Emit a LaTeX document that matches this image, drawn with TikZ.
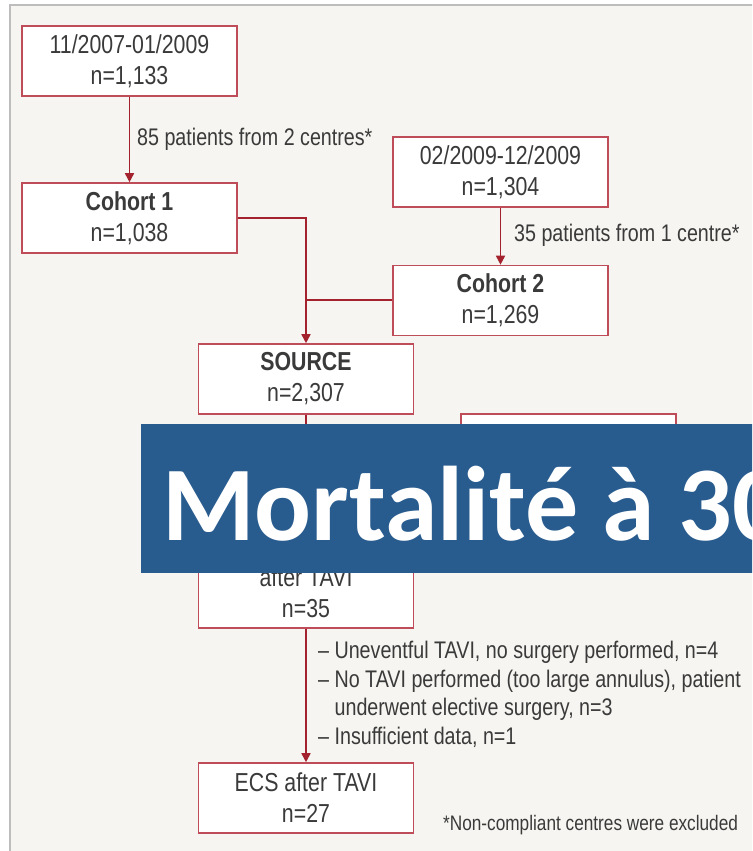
\documentclass[tikz,border=0pt]{standalone}
\usepackage{fontspec}
\usetikzlibrary{arrows.meta}
\newfontfamily\cond{Liberation Sans}[FakeStretch=0.82]
\newfontfamily\calib{Carlito}
\definecolor{bgc}{HTML}{F6F5F1}
\definecolor{framec}{HTML}{BDBDBD}
\definecolor{boxred}{HTML}{BF4D59}
\definecolor{arrred}{HTML}{A3222E}
\definecolor{txt}{HTML}{3A3A3A}
\definecolor{banner}{HTML}{285B8E}
\begin{document}
\begin{tikzpicture}[x=1pt,y=-1pt,
  box/.style={draw=boxred,line width=1.6pt,fill=white,minimum width=215pt,minimum height=70pt,
    inner sep=0pt,align=center,text=txt,font=\cond\fontsize{26}{31}\selectfont},
  conn/.style={draw=arrred,line width=1.6pt},
  arr/.style={conn,-{Triangle[length=9pt,width=9pt]}},
  lbl/.style={text=txt,font=\cond\fontsize{24}{28.5}\selectfont,inner sep=0pt}]
\useasboundingbox (0,0) rectangle (752,851);
\clip (0,0) rectangle (752,851);
\fill[white] (0,0) rectangle (752,851);
\fill[bgc] (10,5) rectangle (760,860);
\draw[framec,line width=2pt] (10,860) -- (10,5) -- (760,5);
% boxes
\node[box] (A) at (129.5,61) {11/2007-01/2009\\n=1,133};
\node[box] (C1) at (129.5,218) {\textbf{Cohort 1}\\n=1,038};
\node[box] (B) at (500.5,172) {02/2009-12/2009\\n=1,304};
\node[box] (C2) at (500.5,300.5) {\textbf{Cohort 2}\\n=1,269};
\node[box] (S) at (306,379) {\textbf{SOURCE}\\n=2,307};
\node[box] (R) at (568.5,449) {};
\node[box] (T) at (306,593) {after TAVI\\n=35};
\node[box] (E) at (306,798) {ECS after TAVI\\n=27};
% connectors
\coordinate (j1) at (306,218);
\coordinate (j2) at (306,300);
\coordinate (j3) at (306,449);
\draw[arr] (A) -- (C1);
\draw[arr] (B) -- (C2);
\draw[conn] (C1.east |- j1) -- (j1) -- (j2);
\draw[conn] (C2.west |- j2) -- (j2);
\draw[arr] (j2) -- (S);
\draw[conn] (S) -- (T);
\draw[arr] (j3) -- (R);
\draw[arr] (T) -- (E);
% labels
\node[lbl,anchor=base west] (l1) at (137,145) {85 patients from 2 centres*};
\node[lbl,anchor=base west] (l2) at (514,241) {35 patients from 1 centre*};
\node[lbl,anchor=base west,align=left] (l3) at (318,744) {–\ Uneventful TAVI, no surgery performed, n=4\\
–\ No TAVI performed (too large annulus), patient\\
\phantom{–\ }underwent elective surgery, n=3\\
–\ Insufficient data, n=1};
\node[lbl,anchor=base west,font=\cond\fontsize{21}{24}\selectfont] (fn) at (443,830) {*Non-compliant centres were excluded};
% banner
\fill[banner] (141,424) rectangle (760,573);
\node[anchor=base west,inner sep=0pt,text=white,font=\calib\bfseries\fontsize{106}{110}\selectfont] (title) at (162,540) {Mortalité à 30};
\end{tikzpicture}
\end{document}
